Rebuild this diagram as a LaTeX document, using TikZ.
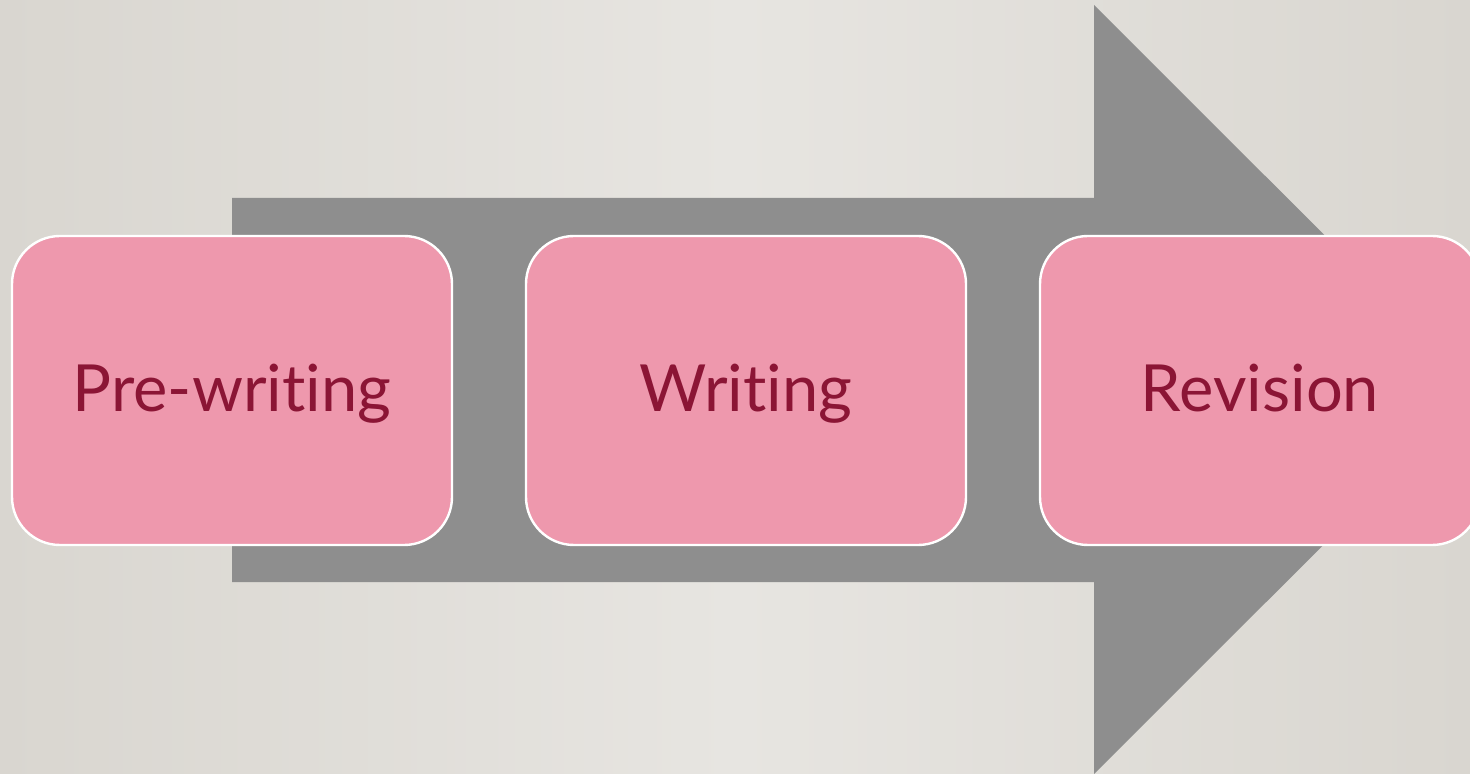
\documentclass[tikz,border=0pt]{standalone}
\usepackage{fontspec}
\setmainfont[Ligatures={NoCommon}]{Lato}
\definecolor{bgside}{HTML}{D9D6D0}
\definecolor{bgmid}{HTML}{E7E5E1}
\definecolor{arrowgray}{HTML}{8E8E8E}
\definecolor{boxpink}{HTML}{EE98AD}
\definecolor{textred}{HTML}{8B1535}
\tikzset{
  stage/.style={draw=white, line width=1.2pt, fill=boxpink, rounded corners=24pt,
    minimum width=220pt, minimum height=154.5pt, inner sep=0pt,
    text height=29.7pt, text depth=8.2pt,
    text=textred, font=\fontsize{32.5}{38}\selectfont, anchor=center},
}
\begin{document}
\begin{tikzpicture}[x=0.5pt,y=-0.5pt]
\useasboundingbox (0,0) rectangle (1470,774);
\begin{scope}
\clip (0,0) rectangle (1470,774);
\shade[left color=bgside, right color=bgside, middle color=bgmid] (0,0) rectangle (1470,774);
\fill[arrowgray] (232,198) -- (1094,198) -- (1094,5) -- (1479,389.5) -- (1094,774) -- (1094,582) -- (232,582) -- cycle;
\node[stage] (pre) at (232,390.5) {Pre-writing};
\node[stage] (wri) at (746,390.5) {Writing};
\node[stage] (rev) at (1260,390.5) {Revision};
\end{scope}
\end{tikzpicture}
\end{document}
